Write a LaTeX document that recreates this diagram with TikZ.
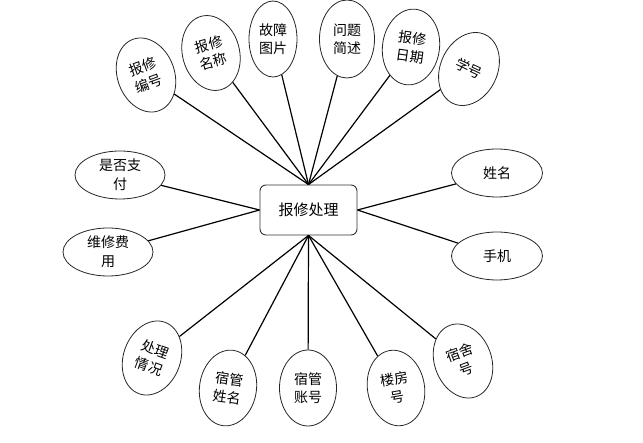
\documentclass[tikz,border=0pt]{standalone}
\usepackage{fontspec}
\newfontfamily\cjk{Noto Sans CJK SC}
\usetikzlibrary{shapes.geometric}
\begin{document}
\begin{tikzpicture}[x=1pt,y=-1pt,
  tall/.style={ellipse, draw=black!85, line width=0.8pt, minimum width=57pt, minimum height=76pt, inner sep=0pt, align=center, font=\cjk\fontsize{14}{18}\selectfont},
  wide/.style={ellipse, draw=black!85, line width=0.8pt, minimum width=90pt, minimum height=48pt, inner sep=0pt, align=center, font=\cjk\fontsize{14}{19}\selectfont},
  hub/.style={rectangle, rounded corners=6pt, draw=black!80, line width=0.9pt, minimum width=97pt, minimum height=50pt, font=\cjk\fontsize{15}{18}\selectfont},
  link/.style={line width=1.2pt}]
\useasboundingbox (0,0) rectangle (643,443);
\node[hub] (c) at (308.5,210) {报修处理};
% top
\node[tall, rotate=20] (a1) at (146,75) {报修\\编号};
\node[tall, rotate=15] (a2) at (211,53) {报修\\名称};
\node[tall, minimum width=48pt] (a3) at (273,39) {故障\\图片};
\node[tall, minimum width=55pt, minimum height=78pt] (a4) at (347,39) {问题\\简述};
\node[tall, rotate=-8] (a5) at (411,47) {报修\\日期};
\node[tall, rotate=-25] (a6) at (469,69) {学号};
% left / right
\node[wide] (b1) at (120,175) {是否支\\付};
\node[wide] (b2) at (108,252) {维修费\\用};
\node[wide, minimum width=91pt] (b3) at (497,173) {姓名};
\node[wide, minimum width=91pt] (b4) at (497,256) {手机};
% bottom
\node[tall, rotate=-20] (d1) at (152,358) {处理\\情况};
\node[tall, rotate=-8] (d2) at (228,388) {宿管\\姓名};
\node[tall] (d3) at (308,388) {宿管\\账号};
\node[tall, rotate=10] (d4) at (396,388) {楼房\\号};
\node[tall, rotate=20] (d5) at (463,361) {宿舍\\号};
% connectors
\foreach \n in {a1,a2,a3,a4,a5,a6} \draw[link] (\n) -- (c.north);
\foreach \n in {b1,b2} \draw[link] (\n) -- (c.west);
\foreach \n in {b3,b4} \draw[link] (\n) -- (c.east);
\foreach \n in {d1,d2,d3,d4,d5} \draw[link] (\n) -- (c.south);
\end{tikzpicture}
\end{document}
